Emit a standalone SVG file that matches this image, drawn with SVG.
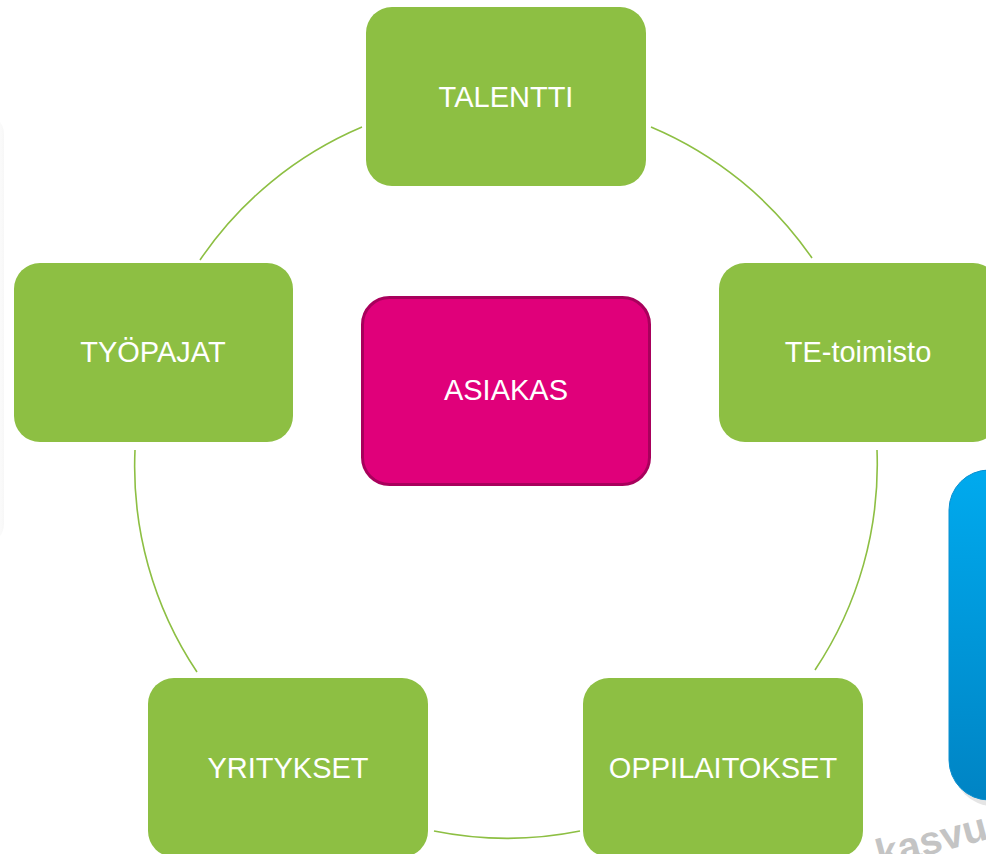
<svg xmlns="http://www.w3.org/2000/svg" width="986" height="854" viewBox="0 0 986 854">
<defs>
<style>
.box{fill:#8dbf43}
.lbl{font-family:"Liberation Sans",Arial,sans-serif;font-size:29px;fill:#ffffff;text-anchor:middle}
.arc{fill:none;stroke:#8dbf43;stroke-width:1.6}
</style>
<linearGradient id="blue" x1="0" y1="0" x2="0" y2="1">
<stop offset="0" stop-color="#00aaee"/>
<stop offset="1" stop-color="#0084c4"/>
</linearGradient>
<linearGradient id="edge" x1="0" y1="0" x2="1" y2="0">
<stop offset="0" stop-color="#ffffff"/>
<stop offset="0.9" stop-color="#fdfdfd"/>
<stop offset="1" stop-color="#f7f7f7"/>
</linearGradient>
</defs>
<rect width="986" height="854" fill="#ffffff"/>
<rect id="left-edge" x="-60" y="114" width="64" height="430" rx="20" fill="url(#edge)"/>
<g id="blue-panel">
<rect x="953" y="476" width="80" height="330" rx="40" fill="#000" opacity="0.1"/>
<rect x="949" y="470" width="80" height="330" rx="40" fill="url(#blue)" stroke="#0a8fcf" stroke-width="1"/>
</g>
<text x="0" y="0" transform="translate(880,868) rotate(-15)" font-family="'Liberation Sans',Arial,sans-serif" font-size="40" font-weight="bold" fill="#c4c4c4">kasvu</text>
<g id="connectors">
<path class="arc" d="M362 127 A370 370 0 0 0 200 260"/>
<path class="arc" d="M135 450 A370 370 0 0 0 197 672"/>
<path class="arc" d="M434 831 A370 370 0 0 0 580 831"/>
<path class="arc" d="M815 670 A370 370 0 0 0 877 450"/>
<path class="arc" d="M812 258 A370 370 0 0 0 651 127"/>
</g>
<g id="talentti"><rect class="box" x="366" y="7" width="280" height="179" rx="26"/><text class="lbl" x="506" y="107">TALENTTI</text></g>
<g id="tyopajat"><rect class="box" x="14" y="263" width="279" height="179" rx="26"/><text class="lbl" x="153" y="362">TYÖPAJAT</text></g>
<g id="te-toimisto"><rect class="box" x="719" y="263" width="280" height="179" rx="26"/><text class="lbl" x="858" y="362">TE-toimisto</text></g>
<g id="yritykset"><rect class="box" x="148" y="678" width="280" height="179" rx="26"/><text class="lbl" x="288" y="778">YRITYKSET</text></g>
<g id="oppilaitokset"><rect class="box" x="583" y="678" width="280" height="179" rx="26"/><text class="lbl" x="723" y="778">OPPILAITOKSET</text></g>
<g id="asiakas"><rect x="362.5" y="297.5" width="287" height="187" rx="27" fill="#e0007a" stroke="#a8005c" stroke-width="3"/><text class="lbl" x="506" y="400">ASIAKAS</text></g>
</svg>
